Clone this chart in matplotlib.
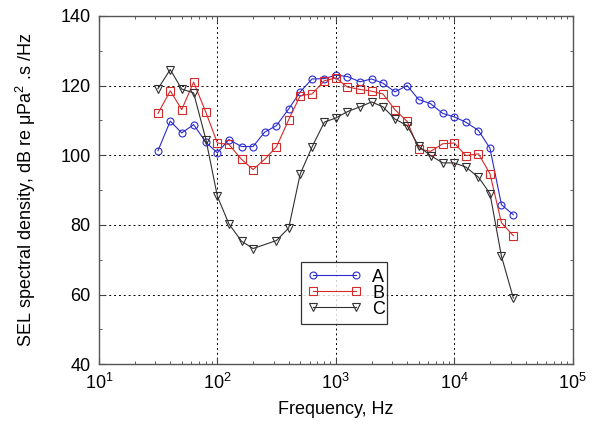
import numpy as np
import matplotlib
matplotlib.use("Agg")
from matplotlib import pyplot as plt
from matplotlib.ticker import LogLocator, MultipleLocator

plt.rcParams['font.family'] = ['Liberation Sans', 'DejaVu Sans']
plt.rcParams['mathtext.fontset'] = 'custom'
plt.rcParams['mathtext.rm'] = 'Liberation Sans'

# 1/3 octave band centre frequencies, Hz
freq = [31.5, 40, 50, 63, 80, 100, 125, 160, 200, 250, 315, 400, 500, 630,
        800, 1000, 1250, 1600, 2000, 2500, 3150, 4000, 5000, 6300, 8000,
        10000, 12500, 16000, 20000, 25000, 31500]
# series C has no 250 Hz point
freq_c = [f for f in freq if f != 250]

sel_a = [101.3, 109.8, 106.4, 108.8, 103.7, 100.7, 104.5, 102.5, 102.5, 106.6,
         108.5, 113.3, 118.2, 121.9, 122.0, 123.0, 122.6, 121.1, 121.9, 120.7,
         118.2, 120.0, 116.0, 114.8, 112.0, 111.0, 109.5, 107.1, 102.0, 85.8, 82.9]
sel_b = [112.0, 118.5, 113.1, 121.0, 112.3, 103.5, 103.1, 98.8, 95.9, 98.8,
         102.4, 110.2, 117.1, 117.6, 121.4, 122.2, 119.6, 118.9, 118.4, 117.6,
         113.1, 109.7, 101.8, 101.1, 103.3, 103.5, 99.9, 100.4, 94.7, 80.6, 76.9]
sel_c = [119.1, 124.6, 119.0, 117.9, 104.5, 88.2, 80.3, 75.3, 73.2,
         75.5, 79.1, 94.6, 102.4, 109.5, 110.7, 112.5, 113.9, 115.3, 113.9,
         110.4, 108.5, 102.6, 99.9, 97.8, 97.8, 96.6, 93.7, 89.0, 71.0, 59.0]

fig = plt.figure(figsize=(5.96, 4.43), dpi=100)
ax = fig.add_axes([0.166, 0.178, 0.795, 0.786])

ax.plot(freq, sel_a, color='#2a2ad0', lw=0.8, marker='o', ms=5,
        mfc='none', mec='#2a2ad0', mew=0.8, label='A')
ax.plot(freq, sel_b, color='#d42a2a', lw=0.8, marker='s', ms=6,
        mfc='none', mec='#d42a2a', mew=0.8, label='B')
ax.plot(freq_c, sel_c, color='#303030', lw=0.8, marker='v', ms=6,
        mfc='none', mec='#303030', mew=0.8, label='C')

ax.set_xscale('log')
ax.set_xlim(10, 1e5)
ax.set_ylim(40, 140)
ax.yaxis.set_major_locator(MultipleLocator(20))
ax.yaxis.set_minor_locator(MultipleLocator(10))
ax.xaxis.set_major_locator(LogLocator(base=10, numticks=10))
ax.xaxis.set_minor_locator(LogLocator(base=10, subs=np.arange(2, 10), numticks=10))

ax.grid(True, which='major', color='black', linestyle=(0, (2, 3)), linewidth=0.7)
ax.tick_params(which='both', direction='in', top=True, right=True,
               labelsize=13, color='#444444')
ax.tick_params(which='major', length=4, pad=6)
ax.tick_params(which='minor', length=2)
for s in ax.spines.values():
    s.set_color('#555555')
    s.set_linewidth(1.0)

ax.set_xlabel('Frequency, Hz', fontsize=13, labelpad=6)
ax.set_ylabel(r'SEL spectral density, dB re μPa$^2$ .s /Hz', fontsize=13, labelpad=16)

leg = ax.legend(loc='lower left', bbox_to_anchor=(0.426, 0.115, 0.182, 0.172),
                mode='expand', fontsize=13, frameon=True, fancybox=False,
                edgecolor='black', handlelength=3.0, numpoints=2,
                borderaxespad=0, labelspacing=-0.05, handletextpad=0.6,
                borderpad=0.35)
leg.get_frame().set_linewidth(0.9)

fig.savefig('out.png', dpi=100)
